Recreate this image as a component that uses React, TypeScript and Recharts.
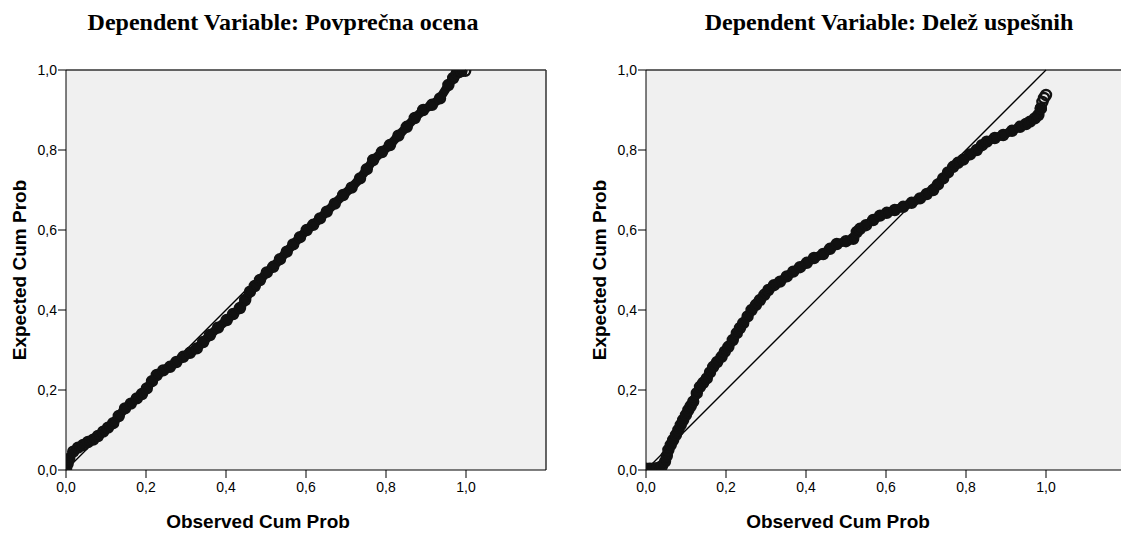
import React from 'react';
import { ScatterChart, Scatter, XAxis, YAxis, CartesianGrid, ReferenceLine, Label } from 'recharts';

const tickValues = [0, 0.2, 0.4, 0.6, 0.8, 1.0];
const tickLabels = ['0,0', '0,2', '0,4', '0,6', '0,8', '1,0'];

const titles = ['Dependent Variable: Povprečna ocena', 'Dependent Variable: Delež uspešnih'];
const xAxisTitle = 'Observed Cum Prob';
const yAxisTitle = 'Expected Cum Prob';

// Left panel: Povprečna ocena
const observedLeft = [
  0.0, 0.004, 0.008, 0.018, 0.03, 0.043, 0.055, 0.068, 0.08, 0.093, 0.105, 0.118, 0.132, 0.1475,
  0.162, 0.177, 0.19, 0.202, 0.215, 0.227, 0.243, 0.26, 0.276, 0.293, 0.31, 0.327, 0.343, 0.36,
  0.38, 0.402, 0.418, 0.435, 0.448, 0.46, 0.472, 0.485, 0.502, 0.518, 0.535, 0.552, 0.568, 0.585,
  0.602, 0.618, 0.635, 0.652, 0.672, 0.693, 0.714, 0.735, 0.752, 0.768, 0.79, 0.81, 0.831, 0.852,
  0.872, 0.893, 0.915, 0.935, 0.956, 0.968, 0.977, 0.988, 0.998,
];
const expectedLeft = [
  0.003, 0.015, 0.028, 0.046, 0.056, 0.0625, 0.07, 0.076, 0.085, 0.096, 0.106, 0.117, 0.135, 0.154,
  0.166, 0.179, 0.19, 0.204, 0.222, 0.2375, 0.249, 0.258, 0.27, 0.283, 0.293, 0.304, 0.32, 0.3375,
  0.356, 0.375, 0.39, 0.405, 0.425, 0.446, 0.46, 0.475, 0.494, 0.508, 0.527, 0.546, 0.564, 0.582,
  0.6, 0.613, 0.629, 0.646, 0.666, 0.6875, 0.706, 0.729, 0.752, 0.775, 0.795, 0.8125, 0.836, 0.858,
  0.88, 0.9, 0.913, 0.929, 0.9625, 0.98, 0.992, 0.997, 0.998,
];

// Right panel: Delež uspešnih
const observedRight = [
  0.0, 0.01, 0.02, 0.03, 0.04, 0.0475, 0.052, 0.056, 0.062, 0.068, 0.075, 0.081, 0.087, 0.093, 0.1,
  0.106, 0.112, 0.118, 0.127, 0.135, 0.143, 0.152, 0.16, 0.168, 0.178, 0.189, 0.197, 0.206, 0.217,
  0.227, 0.235, 0.243, 0.254, 0.264, 0.275, 0.285, 0.296, 0.306, 0.32, 0.335, 0.352, 0.368, 0.385,
  0.402, 0.42, 0.443, 0.46, 0.477, 0.5, 0.518, 0.527, 0.535, 0.55, 0.568, 0.585, 0.602, 0.622, 0.643,
  0.664, 0.685, 0.702, 0.718, 0.73, 0.743, 0.755, 0.768, 0.78, 0.793, 0.81, 0.827, 0.84, 0.852, 0.872,
  0.893, 0.915, 0.935, 0.95, 0.96, 0.972, 0.981, 0.987, 0.991, 0.995, 1.0,
];
const expectedRight = [
  0.003, 0.003, 0.004, 0.005, 0.01, 0.021, 0.035, 0.05, 0.063, 0.075, 0.088, 0.1, 0.113, 0.125, 0.138,
  0.15, 0.16, 0.171, 0.192, 0.208, 0.218, 0.229, 0.244, 0.258, 0.27, 0.283, 0.296, 0.308, 0.325,
  0.342, 0.355, 0.367, 0.384, 0.4, 0.413, 0.425, 0.438, 0.45, 0.462, 0.471, 0.484, 0.496, 0.507,
  0.518, 0.53, 0.54, 0.553, 0.565, 0.572, 0.578, 0.595, 0.603, 0.612, 0.625, 0.636, 0.643, 0.65, 0.658,
  0.668, 0.679, 0.69, 0.7, 0.714, 0.729, 0.744, 0.758, 0.768, 0.776, 0.789, 0.8, 0.812, 0.821, 0.83,
  0.8375, 0.848, 0.858, 0.865, 0.871, 0.879, 0.8875, 0.904, 0.92, 0.93, 0.9375,
];

const diagonalSegment = [{ x: 0, y: 0 }, { x: 1, y: 1 }];

const CircleMark = (props: any) => (
  <circle cx={props.cx} cy={props.cy} r={5} fill="none" stroke="#111" strokeWidth={2.4} />
);

const fmt = (v: number) => {
  const i = tickValues.findIndex((t) => Math.abs(t - v) < 1e-9);
  return i >= 0 ? tickLabels[i] : String(v);
};

function PPPlot(props: {
  obs: number[];
  exp: number[];
  title: string;
  left: number;
  titleCenter: number;
  tail: number;
  rightBorder: boolean;
}) {
  const { obs, exp, title, left, titleCenter, tail, rightBorder } = props;
  const rows = obs.map((x, i) => ({ x, y: exp[i] }));
  const body = rows.slice(0, rows.length - tail + 1);
  const tailRows = rows.slice(rows.length - tail);
  return (
    <div style={{ position: 'absolute', left, top: 0, width: 560, height: 534 }}>
      <div
        style={{
          position: 'absolute',
          left: titleCenter - 300,
          width: 600,
          top: 9,
          textAlign: 'center',
          fontFamily: '"Liberation Serif", serif',
          fontWeight: 'bold',
          fontSize: 24,
          color: '#000',
          whiteSpace: 'nowrap',
        }}
      >
        {title}
      </div>
      <ScatterChart width={560} height={534} margin={{ top: 70, right: 14, bottom: 0, left: 0 }}>
        <CartesianGrid fill="#f0f0f0" horizontal={false} vertical={false} stroke="none" />
        <XAxis
          type="number"
          dataKey="x"
          domain={[0, 1.2]}
          ticks={tickValues}
          tickFormatter={fmt}
          allowDataOverflow
          height={64}
          tickSize={8}
          tickMargin={4}
          stroke="#000"
          tick={{ fill: '#000', fontSize: 14, fontFamily: '"Liberation Sans", Arial, sans-serif' }}
        >
          <Label
            value={xAxisTitle}
            position="insideBottom"
            offset={6}
            dx={-48}
            style={{ fontWeight: 'bold', fontSize: 19, fontFamily: '"Liberation Sans", Arial, sans-serif', fill: '#000' }}
          />
        </XAxis>
        <YAxis
          type="number"
          dataKey="y"
          domain={[0, 1]}
          ticks={tickValues}
          tickFormatter={fmt}
          allowDataOverflow
          width={66}
          tickSize={8}
          tickMargin={1}
          stroke="#000"
          tick={{ fill: '#000', fontSize: 14, fontFamily: '"Liberation Sans", Arial, sans-serif' }}
        >
          <Label
            value={yAxisTitle}
            position="center"
            angle={-90}
            dx={-14}
            style={{ fontWeight: 'bold', fontSize: 19, fontFamily: '"Liberation Sans", Arial, sans-serif', fill: '#000', textAnchor: 'middle' }}
          />
        </YAxis>
        <ReferenceLine y={1} stroke="#333" strokeWidth={1.5} />
        {rightBorder ? <ReferenceLine x={1.2} stroke="#333" strokeWidth={1.5} /> : null}
        <ReferenceLine segment={diagonalSegment} stroke="#000" strokeWidth={1.3} />
        <Scatter
          data={body}
          isAnimationActive={false}
          shape={CircleMark}
          line={{ stroke: '#111', strokeWidth: 9, strokeLinejoin: 'round', strokeLinecap: 'round' }}
          lineType="joint"
        />
        <Scatter data={tailRows} isAnimationActive={false} shape={CircleMark} />
      </ScatterChart>
    </div>
  );
}

export default function App() {
  return (
    <div
      style={{
        position: 'absolute',
        left: 0,
        top: 0,
        width: 1121,
        height: 534,
        overflow: 'hidden',
        background: '#fff',
      }}
    >
      <PPPlot obs={observedLeft} exp={expectedLeft} title={titles[0]} left={0} titleCenter={283} tail={2} rightBorder />
      <PPPlot obs={observedRight} exp={expectedRight} title={titles[1]} left={580} titleCenter={309} tail={4} rightBorder={false} />
    </div>
  );
}
